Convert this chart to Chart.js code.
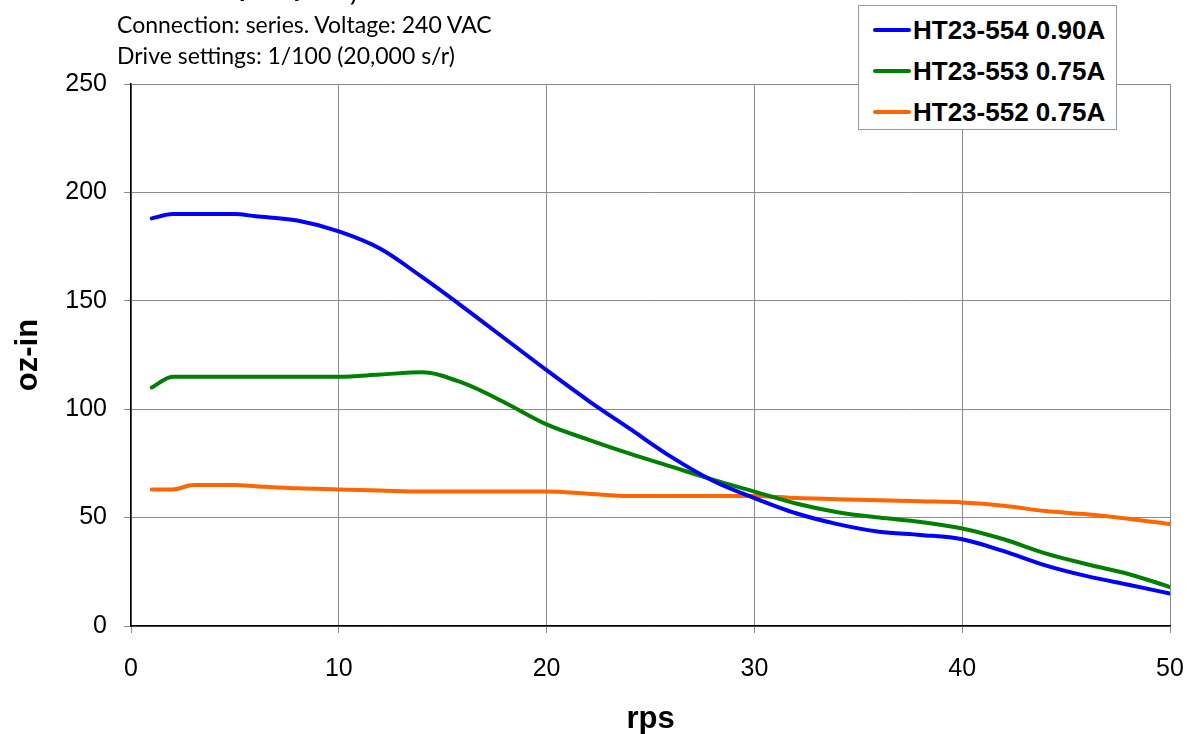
<!DOCTYPE html>
<html>
<head>
<meta charset="utf-8">
<script src="https://cdn.jsdelivr.net/npm/chart.js@4.4.1/dist/chart.umd.min.js"></script>
<style>
    html, body { margin: 0; padding: 0; background: #fff; overflow: hidden; }
    #wrap { position: relative; width: 1187px; height: 734px; }
    #title { position: absolute; left: 117px; top: -23px; font: italic bold 28px "Liberation Sans", Arial, sans-serif; line-height: 28px; white-space: nowrap; color: #000; }
    .sub { position: absolute; left: 117px; font: 23px Lato, "Open Sans", sans-serif; color: #000; white-space: nowrap; }
    #legend { position: absolute; left: 858px; top: 5px; width: 259px; height: 125px; background: #fff; border: 1px solid #999; box-sizing: border-box; }
    .lg { position: absolute; left: 14px; height: 28px; line-height: 28px; font: bold 26px "Liberation Sans", Arial, sans-serif; color: #000; white-space: nowrap; }
    .lg span { display: inline-block; width: 38px; height: 4px; border-radius: 2px; vertical-align: middle; margin-right: 2px; position: relative; top: -2px; }
</style>
</head>
<body>
<div id="wrap">
    <canvas id="torqueChart" width="1187" height="734"></canvas>
    <div id="title">HT23-552/553/554, STR8-220</div>
    <div class="sub" style="top:10px">Connection: series. Voltage: 240 VAC</div>
    <div class="sub" style="top:41px">Drive settings: 1/100 (20,000 s/r)</div>
    <div id="legend"></div>
</div>
<script>
// Speed (rps) and torque (oz-in)
const rps = [1, 2, 3, 4, 5, 6, 8, 10, 12, 14, 16, 18, 20, 22, 24, 26, 28, 30, 32, 34, 36, 38, 40, 42, 44, 46, 48, 50];
const ht554 = [188, 190, 190, 190, 190, 189, 187, 182, 174, 161, 147, 132.5, 118, 104, 91, 78, 67, 59, 52, 47, 43.5, 42, 40, 34.5, 28, 23, 19, 15];
const ht553 = [110, 115, 115, 115, 115, 115, 115, 115, 116, 117, 112, 103, 93, 86, 79.5, 73.5, 67.5, 62, 56.5, 52.5, 50, 48, 45, 40, 33.5, 28.5, 24, 18];
const ht552 = [63, 63, 65, 65, 65, 64.5, 63.5, 63, 62.5, 62, 62, 62, 62, 61, 60, 60, 60, 60, 59, 58.5, 58, 57.5, 57, 55.5, 53, 51.5, 49.5, 47];

const seriesNames = ['HT23-554 0.90A', 'HT23-553 0.75A', 'HT23-552 0.75A'];
const seriesColors = ['#0000ff', '#008000', '#ff6600'];
const seriesValues = [ht554, ht553, ht552];

const yTicks = [0, 50, 100, 150, 200, 250];
const xTicks = [0, 10, 20, 30, 40, 50];

function toPoints(values) {
    return rps.map((x, i) => ({ x: x, y: values[i] }));
}

document.addEventListener('DOMContentLoaded', function() {
    const ctx = document.getElementById('torqueChart').getContext('2d');
    new Chart(ctx, {
        type: 'line',
        data: {
            datasets: seriesNames.map((name, i) => ({
                label: name,
                data: toPoints(seriesValues[i]),
                borderColor: seriesColors[i],
                backgroundColor: seriesColors[i],
                borderWidth: 4,
                pointRadius: 0,
                cubicInterpolationMode: 'monotone',
                borderCapStyle: 'round'
            }))
        },
        options: {
            responsive: false,
            animation: false,
            layout: { padding: { top: 84, right: 17, left: 0, bottom: 0 } },
            plugins: {
                legend: { display: false },
                tooltip: { enabled: false }
            },
            scales: {
                x: {
                    type: 'linear',
                    min: 0,
                    max: 50,
                    afterBuildTicks: (scale) => { scale.ticks = xTicks.map(v => ({ value: v })); },
                    afterFit: (scale) => {
                        scale.height = 108;
                        scale.paddingLeft = 0;
                        scale.paddingRight = 0;
                    },
                    grid: { color: '#8c8c8c', tickColor: '#8c8c8c', tickLength: 7, lineWidth: 1 },
                    border: { color: '#000', width: 1.5 },
                    ticks: { color: '#000', font: { family: 'Liberation Sans', size: 25 }, padding: 21, maxRotation: 0 },
                    title: { display: true, text: 'rps', color: '#000', font: { family: 'Liberation Sans', size: 31, weight: 'bold' }, padding: { top: 0, bottom: -4 } }
                },
                y: {
                    min: 0,
                    max: 250,
                    afterBuildTicks: (scale) => { scale.ticks = yTicks.map(v => ({ value: v })); },
                    afterFit: (scale) => {
                        scale.width = 131;
                        scale.paddingTop = 0;
                        scale.paddingBottom = 0;
                    },
                    grid: { color: '#8c8c8c', tickColor: '#8c8c8c', tickLength: 7, lineWidth: 1 },
                    border: { color: '#000', width: 1.5 },
                    ticks: { color: '#000', font: { family: 'Liberation Sans', size: 25 }, padding: 17 },
                    title: { display: true, text: 'oz-in', color: '#000', font: { family: 'Liberation Sans', size: 31, weight: 'bold' }, padding: { top: 10, bottom: 0 } }
                }
            }
        }
    });

    // Boxed legend in the top right corner
    const legend = document.getElementById('legend');
    legend.innerHTML = seriesNames.map((name, i) => `
        <div class="lg" style="top:${9 + i * 41}px"><span style="background:${seriesColors[i]}"></span>${name}</div>
    `).join('');
});
</script>
</body>
</html>
